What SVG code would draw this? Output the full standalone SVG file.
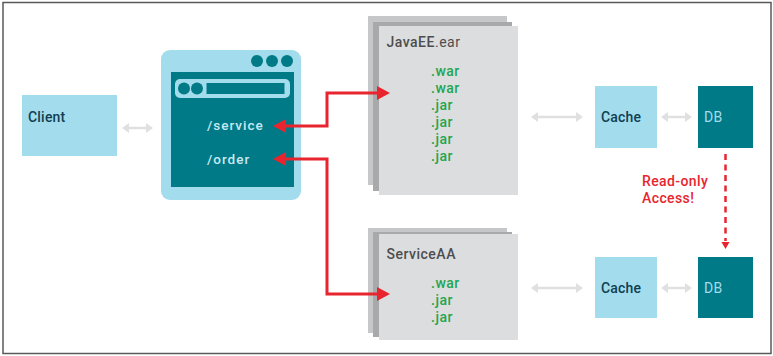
<svg xmlns="http://www.w3.org/2000/svg" width="773" height="356" viewBox="0 0 773 356">
<style>
text{font-family:Roboto,"Liberation Sans",sans-serif;font-weight:500;font-size:14px}
.lb{fill:#a3dcec}.tl{fill:#007a87}
.gb{fill:#c6c7c9}.gm{fill:#a8a9ab}.gf{fill:#dcddde}
.dk{fill:#0f3f52;letter-spacing:.2px}
.db{fill:#a3dcec;font-weight:400;letter-spacing:.3px}
.ep{fill:#c8e9f3;letter-spacing:1px;font-size:13.500px}
.ti{fill:#4d4d4f;letter-spacing:.5px}
.gr{fill:#22a650;letter-spacing:.5px}
.rd{fill:#e8252f;letter-spacing:.4px}
.red{fill:none;stroke:#e8252f;stroke-width:3}
.gl{fill:none;stroke:#e0e0e0;stroke-width:2.500}
.ga{fill:#e0e0e0}
</style>
<rect x="3" y="2.500" width="768" height="351" fill="#fff" stroke="#58595b" stroke-width="1.500"/>
<g id="client"><rect class="lb" x="22" y="95" width="95" height="61"/><text class="dk" x="28" y="122">Client</text></g>
<g id="browser">
<rect class="lb" x="161" y="50" width="140" height="150" rx="9"/>
<circle class="tl" cx="257" cy="61" r="6"/><circle class="tl" cx="272" cy="61" r="6"/><circle class="tl" cx="287" cy="61" r="6"/>
<rect class="tl" x="171" y="72" width="123" height="115"/>
<rect class="lb" x="175" y="79" width="115" height="19" rx="5"/>
<circle class="tl" cx="184" cy="88.500" r="6"/><circle class="tl" cx="197" cy="88.500" r="6"/>
<rect class="tl" x="206.500" y="83" width="78" height="11"/>
<text class="ep" x="207" y="130">/service</text>
<text class="ep" x="207" y="164">/order</text>
</g>
<g id="javaee">
<rect class="gb" x="368" y="16" width="139" height="169"/>
<rect class="gm" x="373" y="22" width="139" height="169"/>
<rect class="gf" x="379" y="26" width="139" height="169"/>
<text class="ti" x="386.500" y="47">JavaEE<tspan font-weight="400">.ear</tspan></text>
<text class="gr" x="431" y="76">.war</text><text class="gr" x="431" y="93">.war</text>
<text class="gr" x="431" y="110">.jar</text><text class="gr" x="431" y="127">.jar</text>
<text class="gr" x="431" y="143.500">.jar</text><text class="gr" x="431" y="160.500">.jar</text>
</g>
<g id="serviceaa">
<rect class="gb" x="368" y="228" width="139" height="105"/>
<rect class="gm" x="373" y="232" width="139" height="105"/>
<rect class="gf" x="379" y="234" width="139" height="106"/>
<text class="ti" x="386.500" y="259">ServiceAA</text>
<text class="gr" x="431" y="288">.war</text><text class="gr" x="431" y="305">.jar</text><text class="gr" x="431" y="322">.jar</text>
</g>
<g id="cache1"><rect class="lb" x="595" y="86" width="62" height="62"/><text class="dk" x="601" y="122">Cache</text></g>
<g id="db1"><rect class="tl" x="698" y="86" width="55" height="62"/><text class="db" x="704" y="122">DB</text></g>
<g id="cache2"><rect class="lb" x="595" y="257" width="62" height="61"/><text class="dk" x="601" y="293">Cache</text></g>
<g id="db2"><rect class="tl" x="698" y="257" width="55" height="61"/><text class="db" x="704" y="293">DB</text></g>
<g id="connectors">
<path class="gl" d="M126 128H149"/><path class="ga" d="M122 128l7-5v10zM153 128l-7-5v10z"/>
<path class="gl" d="M535 117H579"/><path class="ga" d="M531 117l7-5v10zM583 117l-7-5v10z"/>
<path class="gl" d="M665 117H688"/><path class="ga" d="M661 117l7-5v10zM692 117l-7-5v10z"/>
<path class="gl" d="M535 288H579"/><path class="ga" d="M531 288l7-5v10zM583 288l-7-5v10z"/>
<path class="gl" d="M665 288H688"/><path class="ga" d="M661 288l7-5v10zM692 288l-7-5v10z"/>
<path class="red" d="M285 126H327V93H378"/>
<path fill="#e8252f" d="M273 126l13-7v14zM390 93l-13-7v14z"/>
<path class="red" d="M285 159H327V294H378"/>
<path fill="#e8252f" d="M273 159l13-7v14zM390 294l-13-7v14z"/>
<path fill="none" stroke="#e8252f" stroke-width="2.500" stroke-dasharray="6 4.500" d="M725.500 154V241"/>
<path fill="#e8252f" d="M725.500 249l-4-7h8z"/>
</g>
<text class="rd" x="642" y="186">Read-only</text>
<text class="rd" x="642" y="203">Access!</text>
</svg>
